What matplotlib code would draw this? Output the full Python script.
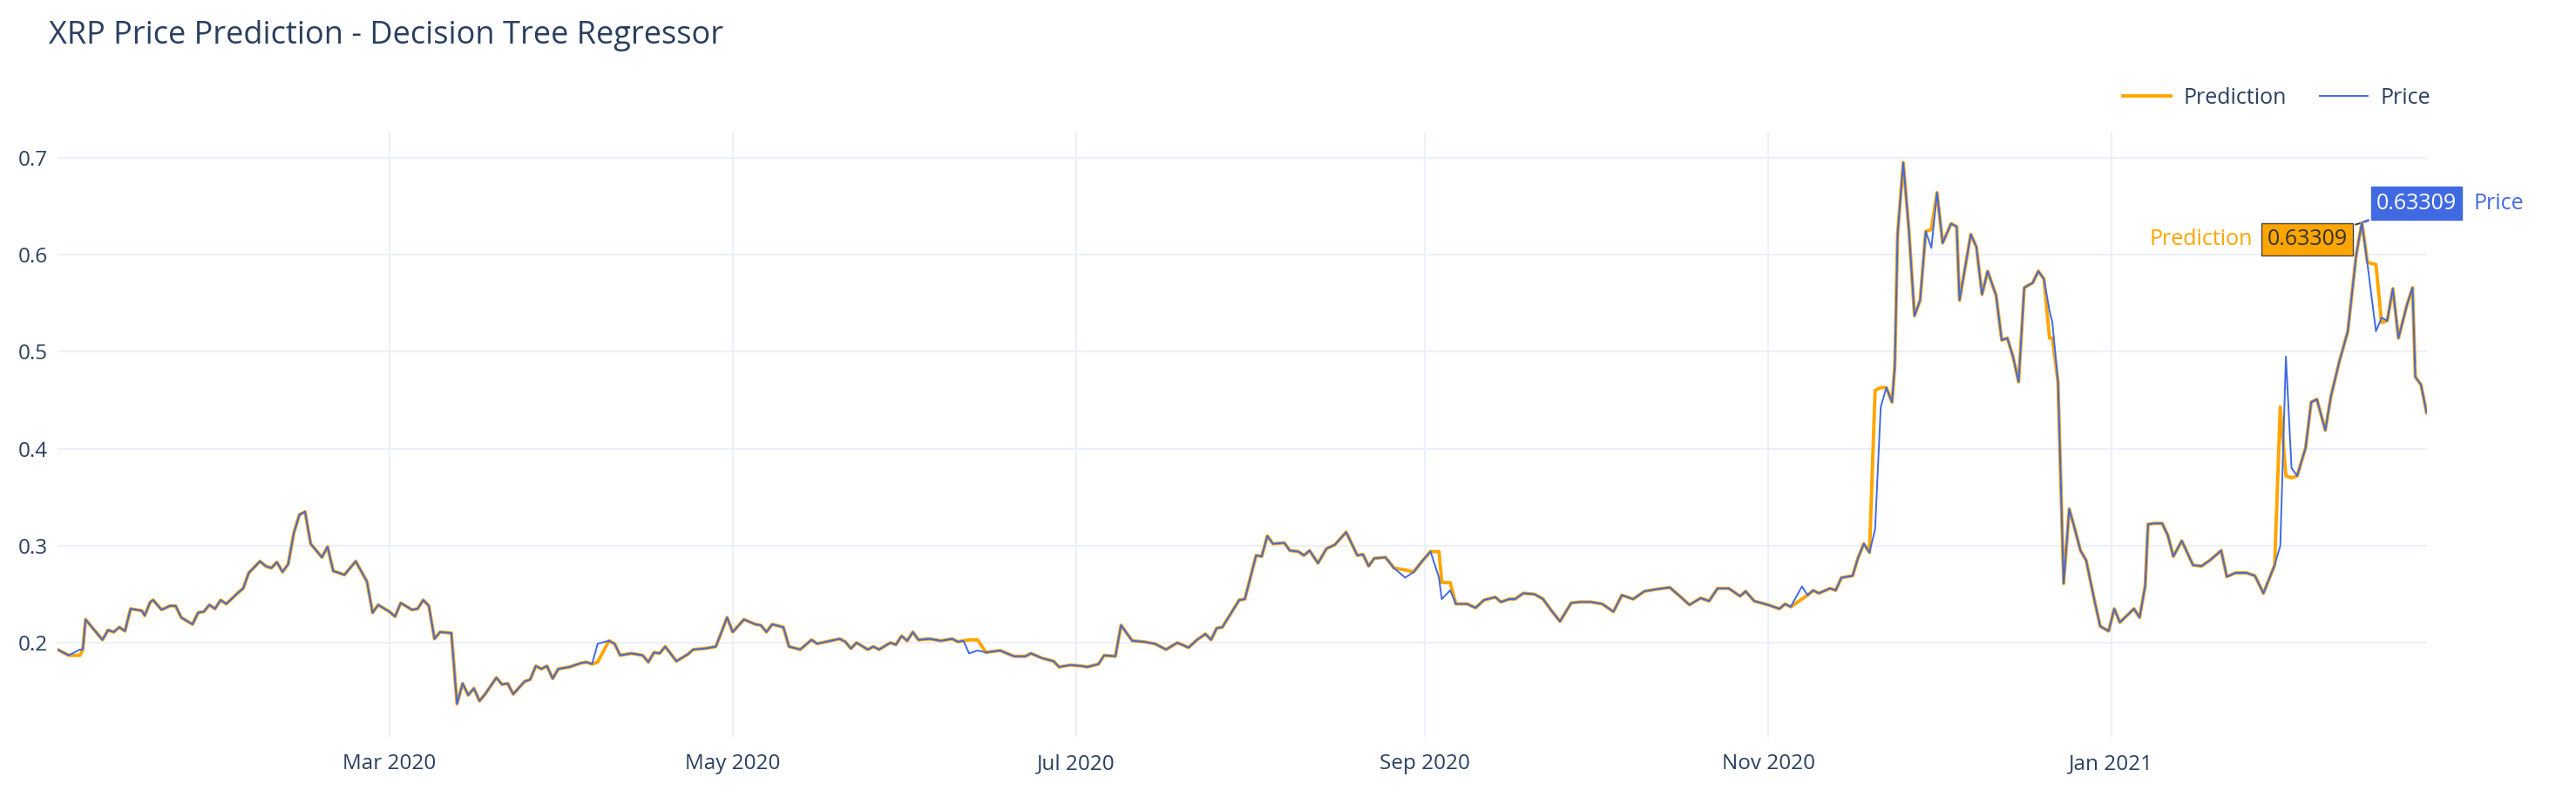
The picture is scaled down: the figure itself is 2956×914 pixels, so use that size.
import numpy as np
import pandas as pd
import matplotlib
matplotlib.use("Agg")
import matplotlib.pyplot as plt
import matplotlib.dates as mdates

# day offsets from 2020-01-01 and XRP price
price_days = [1,3,5,5.5,6,8,9,10,11,12,13,14,16,16.5,17.5,18,19.5,21,22,23,25,26,27,28,29,30,31,33,34,35,37,38,39,40,41,42,43,44,45,46,48,49,50,52,53,54,56,57,58,60,61,62,64,65,66,67,68,69,71,72,73,74,75,76,77,79,80,81,82,84,85,86,87,88,89,90,92,94,95,96,97,99,100,101,103,105,106,107,108,109,111,113,114,116,118,120,121,123,125,126,127,128,130,131,133,135,136,140,141,142,143,145,
146,147,149,150,151,152,153,154,156,158,160,161,162,163,164.5,166,168.5,171,173,174,176,178,179,181,183,184,186,187,189,190,192,194,196,198,200,202,203.5,205,206,207,208,209.5,211,212,214,215,216,217,219,220,221.5,222.5,223.5,225,226.5,228,230,232,233,234,235,237,238.5,240.5,242,243.5,245,246.5,247,248.5,249.5,251.5,253,254.5,256.5,257.5,259,260,261.5,263.5,265,266.5,268,270,271.5,273.5,275.5,277.5,279,281,283,285,287.5,289.5,291,
293,294.5,296,298,300,301,302.5,305,307,308,309,311,312,313,314,316,317,318,320,321,322,323,324,325,326,327,327.5,328,329,330,331,332,333,334,335,336,337.5,338.5,339,340,341,342,343,344,345.5,346.5,347.5,348.5,349.5,350.5,352,353,354,355,355.5,356.5,357.5,358.5,359.5,360.5,361.5,363,364,365.5,366.5,367.5,370,371,372,372.5,373.5,375,376,377,378.5,380.5,382,383.5,385.5,386.5,388,390,391.5,393,395,396,397,398,399,400.5,401.5,402.5,404,405,406.5,408,409.5,410.5,411.5,413,414,415,416,417,418.5,419.5,420,421,422]
price_vals = [0.193,0.187,0.193,0.193,0.224,0.210,0.203,0.213,0.211,0.216,0.212,0.235,0.233,0.228,0.242,0.244,0.234,0.238,0.238,0.226,0.219,0.231,0.232,0.239,0.235,0.244,0.240,0.251,0.256,0.272,0.284,0.279,0.277,0.283,0.273,0.281,0.313,0.332,0.335,0.302,0.288,0.299,0.274,0.270,0.277,0.284,0.263,0.231,0.239,0.232,0.227,0.241,0.234,0.235,0.244,0.238,0.204,0.211,0.210,0.137,0.158,0.146,0.153,0.140,0.147,0.164,0.157,0.158,0.147,0.160,0.162,0.176,0.173,0.176,0.163,0.173,0.175,0.179,0.180,0.178,0.199,0.202,0.199,0.187,0.189,0.187,0.180,0.190,0.189,0.196,0.181,0.188,0.193,0.194,0.196,0.226,0.211,0.224,0.219,0.218,0.211,0.219,0.216,0.196,0.193,0.203,0.199,0.204,0.201,0.194,0.200,0.193,
0.196,0.193,0.200,0.198,0.207,0.202,0.211,0.203,0.204,0.202,0.204,0.201,0.202,0.189,0.192,0.190,0.192,0.186,0.186,0.189,0.184,0.181,0.175,0.177,0.176,0.175,0.178,0.187,0.186,0.218,0.202,0.201,0.199,0.193,0.200,0.195,0.203,0.209,0.203,0.215,0.216,0.230,0.244,0.245,0.290,0.289,0.310,0.302,0.303,0.295,0.294,0.290,0.295,0.282,0.297,0.301,0.314,0.290,0.291,0.279,0.287,0.288,0.277,0.267,0.273,0.284,0.294,0.267,0.245,0.254,0.240,0.240,0.236,0.244,0.247,0.242,0.245,0.245,0.251,0.250,0.245,0.233,0.222,0.241,0.242,0.242,0.240,0.232,0.249,0.245,0.253,0.255,0.257,0.247,0.239,
0.246,0.243,0.256,0.256,0.248,0.253,0.243,0.239,0.235,0.240,0.237,0.258,0.249,0.254,0.251,0.256,0.254,0.267,0.269,0.288,0.302,0.293,0.317,0.443,0.463,0.448,0.485,0.621,0.695,0.626,0.537,0.553,0.624,0.607,0.664,0.612,0.632,0.629,0.553,0.587,0.621,0.608,0.559,0.583,0.558,0.512,0.514,0.495,0.469,0.566,0.571,0.583,0.575,0.542,0.530,0.469,0.261,0.338,0.317,0.295,0.285,0.243,0.217,0.212,0.235,0.221,0.235,0.226,0.259,0.322,0.323,0.323,0.311,0.289,0.305,0.280,0.279,0.285,0.295,0.268,0.272,0.272,0.269,0.251,0.280,0.300,0.495,0.380,0.372,0.401,0.448,0.451,0.419,0.454,0.490,0.521,0.600,0.63309,0.590,0.521,0.535,0.532,0.565,0.514,0.548,0.566,0.474,0.466,0.437]

# prediction values where they differ from the price
pred_diff_days = [3,5,97,163,164.5,240.5,246.5,247,248.5,311,324,325,334,355,355.5,396,397,398,411.5,413,414]
pred_diff_vals = [0.187,0.187,0.180,0.203,0.203,0.275,0.294,0.262,0.262,0.245,0.460,0.463,0.626,0.514,0.514,0.443,0.372,0.370,0.592,0.590,0.530]

base = pd.Timestamp("2020-01-01")
pdays = np.array(price_days, dtype=float)
pvals = np.array(price_vals, dtype=float)
pred = pvals.copy()
for d, v in zip(pred_diff_days, pred_diff_vals):
    pred[np.argmin(np.abs(pdays - d))] = v
dates = base + pd.to_timedelta(pdays, unit="D")

tick_dates = ["2020-03-01", "2020-05-01", "2020-07-01", "2020-09-01", "2020-11-01", "2021-01-01"]
tick_labels = ["Mar 2020", "May 2020", "Jul 2020", "Sep 2020", "Nov 2020", "Jan 2021"]
y_ticks = [0.2, 0.3, 0.4, 0.5, 0.6, 0.7]

TXT = "#2a3f5f"
plt.rcParams["font.family"] = ["Open Sans", "DejaVu Sans"]
fig = plt.figure(figsize=(29.56, 9.14), dpi=100)
ax = fig.add_axes([0.0223, 0.076, 0.9197, 0.759])
ax.plot(dates, pred, color="#FFA500", lw=2.8, label="Prediction", zorder=3)
ax.plot(dates, pvals, color="#4169E1", lw=1.4, label="Price", zorder=4)
ax.set_xlim(dates[0], dates[-1])
ax.set_ylim(0.1034, 0.727)
ax.set_yticks(y_ticks)
ax.set_yticklabels([f"{t:.1f}" for t in y_ticks])
ax.set_xticks(pd.to_datetime(tick_dates))
ax.set_xticklabels(tick_labels)
ax.grid(True, color="#EBF0F8", lw=1.5)
ax.set_axisbelow(True)
for s in ax.spines.values():
    s.set_visible(False)
ax.tick_params(length=0, labelsize=17.5, colors=TXT, pad=14)
ax.tick_params(axis="y", pad=8)

fig.text(0.019, 0.955, "XRP Price Prediction - Decision Tree Regressor", fontsize=26, color=TXT, va="center")
leg = ax.legend(loc="lower right", bbox_to_anchor=(1.01, 1.005), ncol=2, frameon=False,
                fontsize=18, handlelength=2.2, columnspacing=1.5, handletextpad=0.6)
for t in leg.get_texts():
    t.set_color(TXT)

# hover labels
pk = pd.Timestamp(base + pd.to_timedelta(410.5, unit="D"))
ax.annotate("0.63309", xy=(pk, 0.63309), xytext=(12, 16), textcoords="offset points",
            fontsize=18, color="white", va="center", ha="left",
            bbox=dict(boxstyle="square,pad=0.25", fc="#4169E1", ec="#4169E1"),
            arrowprops=dict(arrowstyle="-", color="#4169E1", lw=2), zorder=6)
ax.annotate("Price", xy=(pk, 0.63309), xytext=(92, 16), textcoords="offset points",
            fontsize=18, color="#4169E1", va="center", ha="left", zorder=6)
ax.annotate("0.63309", xy=(pk, 0.63309), xytext=(-12, -14), textcoords="offset points",
            fontsize=18, color="#333333", va="center", ha="right",
            bbox=dict(boxstyle="square,pad=0.25", fc="#FFA500", ec="#444444"),
            arrowprops=dict(arrowstyle="-", color="#444444", lw=1.5), zorder=6)
ax.annotate("Prediction", xy=(pk, 0.63309), xytext=(-90, -14), textcoords="offset points",
            fontsize=18, color="#FFA500", va="center", ha="right", zorder=6)

fig.savefig("out.png", dpi=100, facecolor="white")
